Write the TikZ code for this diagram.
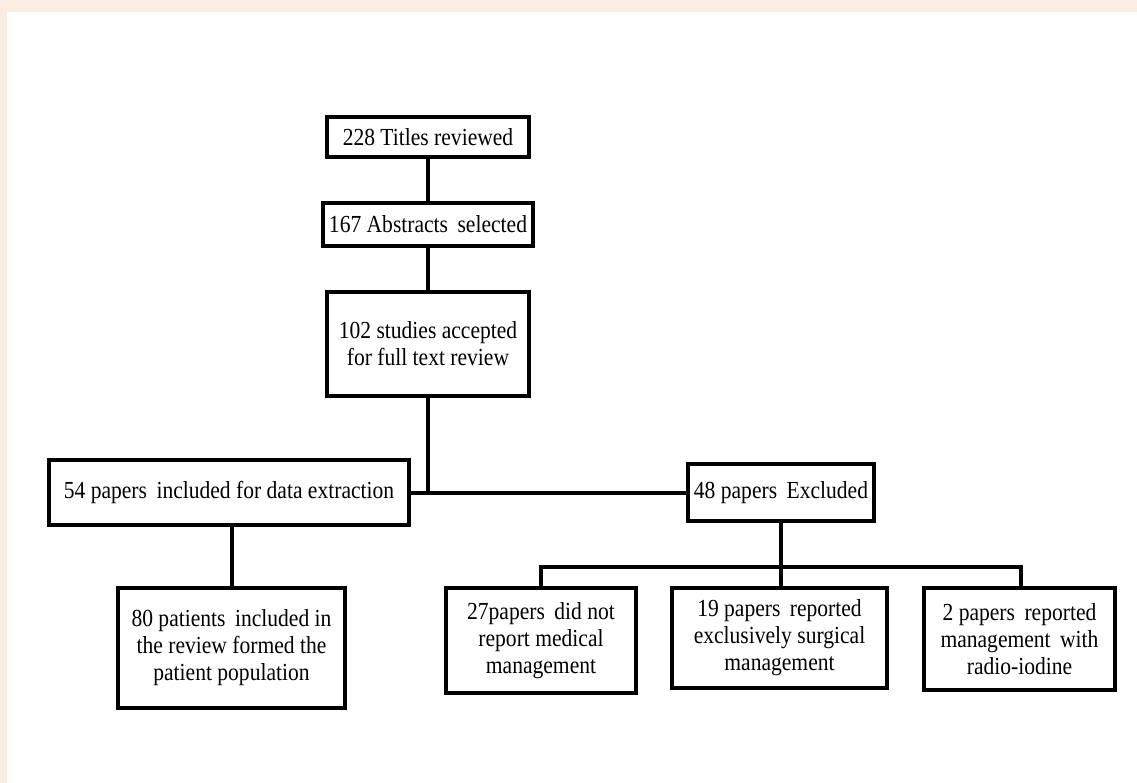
\documentclass[tikz,border=0pt]{standalone}
\usepackage{fontspec}
\setmainfont{Liberation Serif}[FakeStretch=0.88]
\definecolor{peach}{RGB}{251,237,226}
\begin{document}
\begin{tikzpicture}[x=1pt,y=-1pt,
  box/.style={draw=black,line width=4.8pt,fill=white,align=center,inner sep=2pt,
    font={\fontsize{24.5}{27}\selectfont}},
  conn/.style={line width=4pt}]
\fill[peach] (0,0) rectangle (1137,783);
\fill[white] (7,12) rectangle (1137,783);
\useasboundingbox (0,0) rectangle (1137,783);

\node[box,minimum width=202pt,minimum height=40pt] (b1) at (428,137) {228 Titles reviewed};
\node[box,minimum width=210pt,minimum height=43pt] (b2) at (428,224.5) {167 Abstracts\, selected};
\node[box,minimum width=202pt,minimum height=104pt] (b3) at (428,344) {102 studies accepted\\for full text review};
\node[box,minimum width=360pt,minimum height=65pt] (b4) at (229,492.5) {54 papers\, included for data extraction};
\node[box,minimum width=186pt,minimum height=57pt] (b5) at (781,492.5) {48 papers\, Excluded};
\node[box,minimum width=190pt,minimum height=105pt] (b6) at (541,640.5) {27papers\, did not\\report medical\\management};
\node[box,minimum width=215pt,minimum height=100pt] (b7) at (779.5,638) {19 papers\, reported\\exclusively surgical\\management};
\node[box,minimum width=191pt,minimum height=102pt] (b8) at (1019.5,639) {2 papers\, reported\\management\, with\\radio-iodine};
\node[box,minimum width=227pt,minimum height=120pt] (b9) at (231.5,648) {80 patients\, included in\\the review formed the\\patient population};

\coordinate (j1) at (428,492.5);
\coordinate (j2) at (781,567);
\coordinate (bl) at (541,567);
\coordinate (br) at (1021,567);

\draw[conn] (b1.south) -- (b2.north);
\draw[conn] (b2.south) -- (b3.north);
\draw[conn] (b3.south) -- (j1);
\draw[conn] (b4.east) -- (b5.west);
\draw[conn] (b4.south -| b9.north) -- (b9.north);
\draw[conn] (b5.south) -- (j2);
\draw[conn,line cap=rect] (bl) -- (br);
\draw[conn] (bl) -- (b6.north -| bl);
\draw[conn] (j2) -- (b7.north -| j2);
\draw[conn] (br) -- (b8.north -| br);
\end{tikzpicture}
\end{document}
